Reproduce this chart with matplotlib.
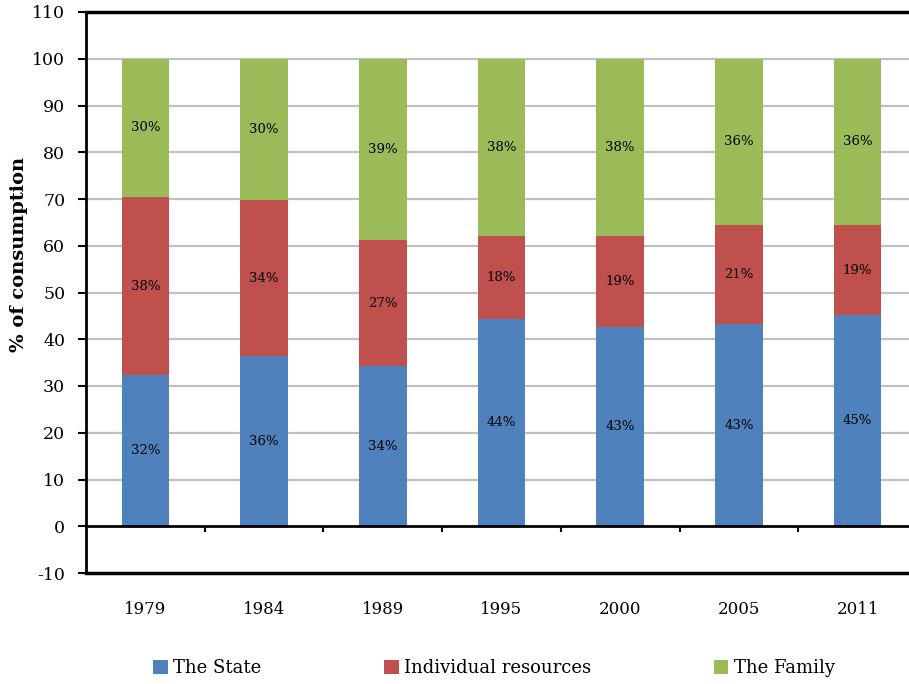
import numpy as np
import matplotlib.pyplot as plt
from matplotlib.ticker import FixedLocator

plt.rcParams['font.family'] = ['DejaVu Serif']
plt.rcParams['axes.unicode_minus'] = False

# 数据
years = ['1979', '1984', '1989', '1995', '2000', '2005', '2011']
state = [32.3, 36.4, 34.2, 44.3, 42.6, 43.2, 45.1]
individual = [38.1, 33.3, 27.0, 17.7, 19.4, 21.2, 19.3]
family = [29.6, 30.3, 38.8, 38.0, 38.0, 35.6, 35.6]
state_lbl = ['32%', '36%', '34%', '44%', '43%', '43%', '45%']
indiv_lbl = ['38%', '34%', '27%', '18%', '19%', '21%', '19%']
family_lbl = ['30%', '30%', '39%', '38%', '38%', '36%', '36%']

colors = ['#4F81BD', '#C0504D', '#9BBB59']
names = ['The State', 'Individual resources', 'The Family']

fig = plt.figure(figsize=(9.09, 6.84), dpi=100)
ax = fig.add_axes([86 / 909, 1 - 573 / 684, 831 / 909, 561 / 684])

x = np.arange(len(years))
bottom = np.zeros(len(years))
for vals, lbls, c, n in zip([state, individual, family],
                            [state_lbl, indiv_lbl, family_lbl], colors, names):
    bars = ax.bar(x, vals, width=0.4, bottom=bottom, color=c, label=n, zorder=2)
    ax.bar_label(bars, labels=lbls, label_type='center', fontsize=9.5)
    bottom = bottom + np.array(vals)

ax.set_xlim(-0.5, len(years) - 0.5)
ax.set_ylim(-10, 110)
ax.set_yticks(np.arange(-10, 111, 10))

# 网格线
for v in range(10, 101, 10):
    ax.axhline(v, color='#c0c0c0', lw=1.6, zorder=1)

# x轴在 0 处
ax.spines['bottom'].set_position(('data', 0))
ax.spines['bottom'].set_linewidth(2)
ax.spines['left'].set_linewidth(2)
ax.spines['top'].set_linewidth(2.5)
ax.spines['right'].set_visible(False)
ax.axhline(-10, color='black', lw=2.5, clip_on=False, zorder=3)

ax.set_xticks(x)
ax.set_xticklabels(years)
ax.xaxis.set_minor_locator(FixedLocator(x[:-1] + 0.5))
ax.tick_params(axis='x', which='major', length=0, pad=54, labelsize=12)
ax.tick_params(axis='x', which='minor', length=4.5, width=1.5, direction='out')
ax.tick_params(axis='y', length=6, width=1.5, pad=9, labelsize=12.5)

ax.set_ylabel('% of consumption', fontsize=14, fontweight='bold')
ax.yaxis.set_label_coords(-0.07, 0.567)

fig.legend(loc='center', bbox_to_anchor=(494 / 909, 1 - 668 / 684), ncol=3,
           frameon=False, fontsize=13, handlelength=0.8, handleheight=0.8,
           handletextpad=0.3, columnspacing=6.8)

fig.savefig('out.png', dpi=100)
